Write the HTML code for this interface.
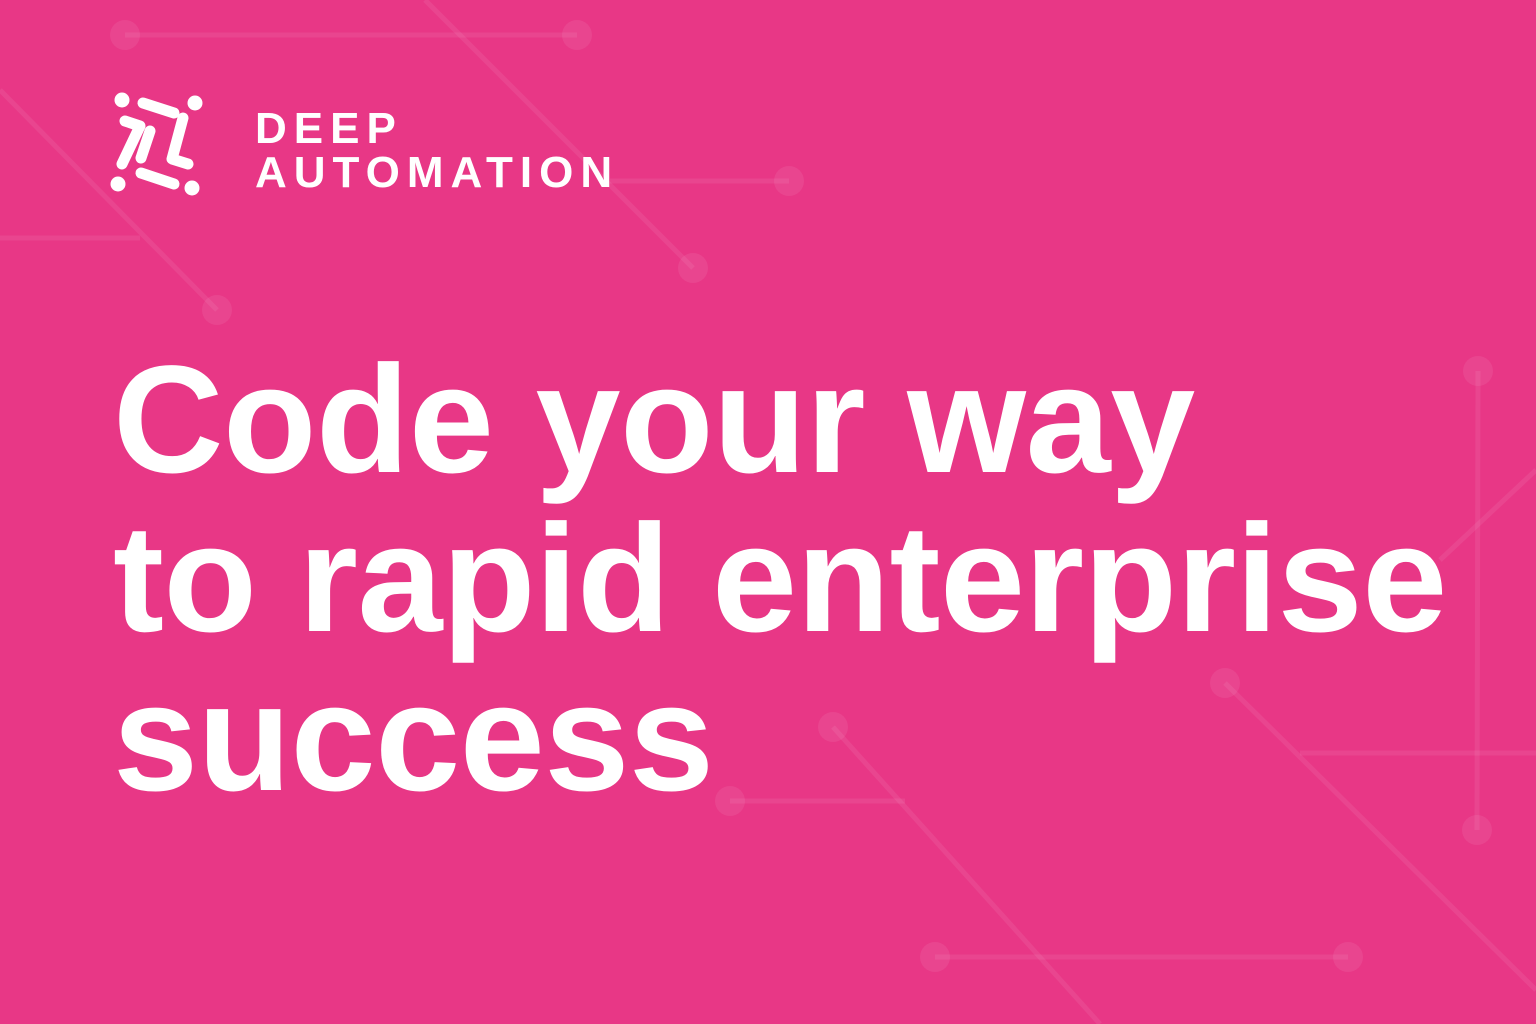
<!DOCTYPE html>
<html><head><meta charset="utf-8"><style>
html,body{margin:0;padding:0}
body{width:1536px;height:1024px;background:#E83786;position:relative;overflow:hidden;font-family:"Liberation Sans",Arial,sans-serif}
svg{position:absolute;left:0;top:0}
.logo{position:absolute;left:255px;top:107px;color:#fff;font-size:44px;line-height:44px;letter-spacing:7px;font-weight:bold}
.h{position:absolute;left:113px;top:340px;color:#fff;font-weight:bold;font-size:153px;line-height:159px;white-space:nowrap;letter-spacing:-0.5px}
</style></head><body>
<svg width="1536" height="1024">
<g stroke="rgba(255,255,255,0.075)" stroke-width="5" fill="none">
<line x1="125" y1="35" x2="577" y2="35"/>
<line x1="425" y1="0" x2="693" y2="268"/>
<line x1="0" y1="90" x2="217" y2="310"/>
<line x1="0" y1="238" x2="140" y2="238"/>
<line x1="610" y1="181" x2="789" y2="181"/>
<line x1="1478" y1="371" x2="1477" y2="830"/>
<line x1="1440" y1="560" x2="1536" y2="470"/>
<line x1="1225" y1="683" x2="1536" y2="990"/>
<line x1="1300" y1="753" x2="1536" y2="753"/>
<line x1="833" y1="727" x2="1100" y2="1024"/>
<line x1="730" y1="801" x2="905" y2="801"/>
<line x1="935" y1="957" x2="1348" y2="957"/>
</g>
<g fill="rgba(255,255,255,0.075)">
<circle cx="125" cy="35" r="15"/><circle cx="577" cy="35" r="15"/>
<circle cx="693" cy="268" r="15"/><circle cx="217" cy="310" r="15"/>
<circle cx="789" cy="181" r="15"/><circle cx="1478" cy="371" r="15"/>
<circle cx="1477" cy="830" r="15"/><circle cx="1225" cy="683" r="15"/>
<circle cx="833" cy="727" r="15"/><circle cx="730" cy="801" r="15"/>
<circle cx="935" cy="957" r="15"/><circle cx="1348" cy="957" r="15"/>
</g>
<g fill="#fff"><circle cx="122" cy="100" r="7.5"/><circle cx="195" cy="103" r="7.5"/><circle cx="118" cy="184" r="7.5"/><circle cx="192" cy="188" r="7.5"/></g>
<g stroke="#fff" stroke-width="11" stroke-linecap="round" stroke-linejoin="round" fill="none">
<line x1="143" y1="103" x2="174" y2="113"/>
<polyline points="125,121 140,126 122,164"/>
<line x1="150" y1="131" x2="141" y2="158"/>
<polyline points="183,118 172,159 188,164"/>
<line x1="141" y1="173" x2="174" y2="184"/>
</g>
</svg>
<div class="logo">DEEP<br>AUTOMATION</div>
<div class="h">Code your way<br>to rapid enterprise<br>success</div>
</body></html>
